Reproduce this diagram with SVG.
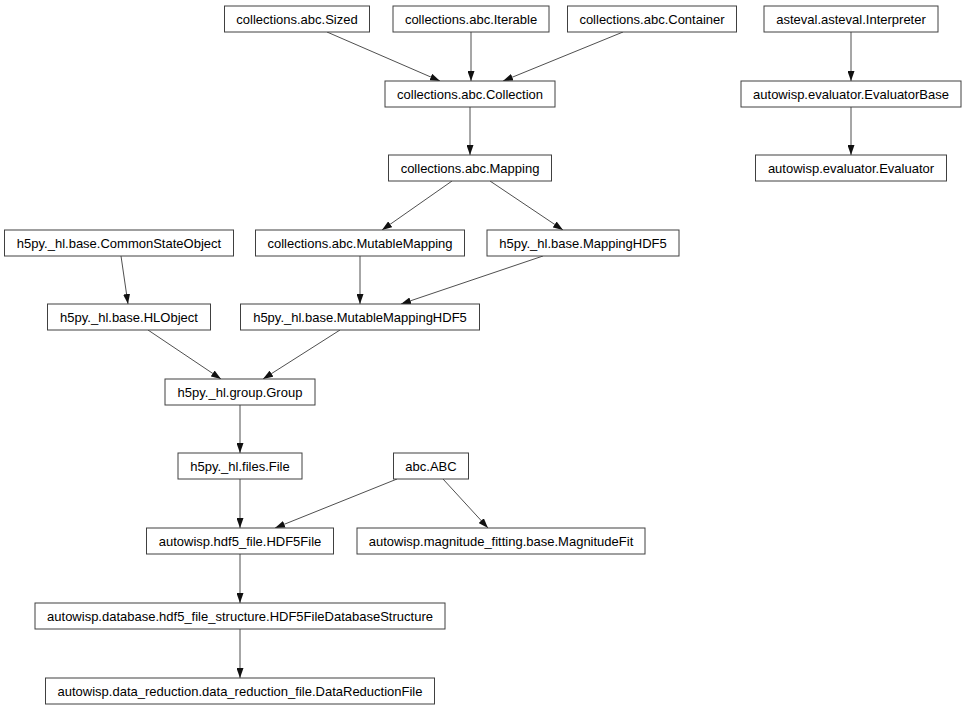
<svg xmlns="http://www.w3.org/2000/svg" width="966" height="709" viewBox="0 0 966 709">
<style>
.n rect{fill:#ffffff;stroke:#404040;stroke-width:1}
.n text{font-family:"Liberation Sans",Arial,sans-serif;font-size:13px;fill:#000;text-anchor:middle}
#edges line{stroke:#222;stroke-width:0.8;marker-end:url(#ah)}
</style>
<defs>
<marker id="ah" markerUnits="userSpaceOnUse" markerWidth="10" markerHeight="7" refX="10" refY="3.5" orient="auto">
<path d="M0,0 L10,3.5 L0,7 z" fill="#111"/>
</marker>
</defs>
<rect width="966" height="709" fill="#ffffff"/>
<g id="edges">
<line x1="327" y1="32" x2="440" y2="81"/>
<line x1="471" y1="32" x2="471" y2="81"/>
<line x1="623" y1="32" x2="503" y2="81"/>
<line x1="851" y1="32" x2="851" y2="81"/>
<line x1="470" y1="107" x2="470" y2="155"/>
<line x1="851" y1="107" x2="851" y2="155"/>
<line x1="452" y1="181" x2="382" y2="230"/>
<line x1="490" y1="181" x2="563" y2="230"/>
<line x1="121" y1="256" x2="128" y2="304"/>
<line x1="360" y1="256" x2="360" y2="304"/>
<line x1="543" y1="256" x2="401" y2="304"/>
<line x1="148" y1="330" x2="221" y2="379"/>
<line x1="340" y1="330" x2="263" y2="379"/>
<line x1="240" y1="405" x2="240" y2="453"/>
<line x1="240" y1="479" x2="240" y2="528"/>
<line x1="397" y1="479" x2="275" y2="528"/>
<line x1="443" y1="479" x2="488" y2="528"/>
<line x1="240" y1="554" x2="240" y2="603"/>
<line x1="240" y1="629" x2="240" y2="678"/>
</g>
<g id="sized" class="n"><rect x="224.5" y="6" width="145" height="26"/><text x="297" y="23.5">collections.abc.Sized</text></g>
<g id="iterable" class="n"><rect x="393" y="6" width="156" height="26"/><text x="471" y="23.5">collections.abc.Iterable</text></g>
<g id="container" class="n"><rect x="567.5" y="6" width="169" height="26"/><text x="652" y="23.5">collections.abc.Container</text></g>
<g id="interpreter" class="n"><rect x="764" y="6" width="174" height="26"/><text x="851" y="23.5">asteval.asteval.Interpreter</text></g>
<g id="collection" class="n"><rect x="385" y="81" width="170" height="26"/><text x="470" y="98.5">collections.abc.Collection</text></g>
<g id="evaluatorbase" class="n"><rect x="741" y="81" width="220" height="26"/><text x="851" y="98.5">autowisp.evaluator.EvaluatorBase</text></g>
<g id="mapping" class="n"><rect x="388.5" y="155" width="163" height="26"/><text x="470" y="172.5">collections.abc.Mapping</text></g>
<g id="evaluator" class="n"><rect x="755.5" y="155" width="191" height="26"/><text x="851" y="172.5">autowisp.evaluator.Evaluator</text></g>
<g id="commonstateobject" class="n"><rect x="4.5" y="230" width="229" height="26"/><text x="119" y="247.5">h5py._hl.base.CommonStateObject</text></g>
<g id="mutablemapping" class="n"><rect x="255.5" y="230" width="209" height="26"/><text x="360" y="247.5">collections.abc.MutableMapping</text></g>
<g id="mappinghdf5" class="n"><rect x="487" y="230" width="192" height="26"/><text x="583" y="247.5">h5py._hl.base.MappingHDF5</text></g>
<g id="hlobject" class="n"><rect x="47.5" y="304" width="163" height="26"/><text x="129" y="321.5">h5py._hl.base.HLObject</text></g>
<g id="mutablemappinghdf5" class="n"><rect x="240.5" y="304" width="239" height="26"/><text x="360" y="321.5">h5py._hl.base.MutableMappingHDF5</text></g>
<g id="group" class="n"><rect x="165" y="379" width="150" height="26"/><text x="240" y="396.5">h5py._hl.group.Group</text></g>
<g id="file" class="n"><rect x="178" y="453" width="124" height="26"/><text x="240" y="470.5">h5py._hl.files.File</text></g>
<g id="abc" class="n"><rect x="393.5" y="453" width="75" height="26"/><text x="431" y="470.5">abc.ABC</text></g>
<g id="hdf5file" class="n"><rect x="146.5" y="528" width="187" height="26"/><text x="240" y="545.5">autowisp.hdf5_file.HDF5File</text></g>
<g id="magnitudefit" class="n"><rect x="357" y="528" width="288" height="26"/><text x="501" y="545.5">autowisp.magnitude_fitting.base.MagnitudeFit</text></g>
<g id="dbstructure" class="n"><rect x="35" y="603" width="410" height="26"/><text x="240" y="620.5">autowisp.database.hdf5_file_structure.HDF5FileDatabaseStructure</text></g>
<g id="datareductionfile" class="n"><rect x="45.5" y="678" width="389" height="26"/><text x="240" y="695.5">autowisp.data_reduction.data_reduction_file.DataReductionFile</text></g>
</svg>
